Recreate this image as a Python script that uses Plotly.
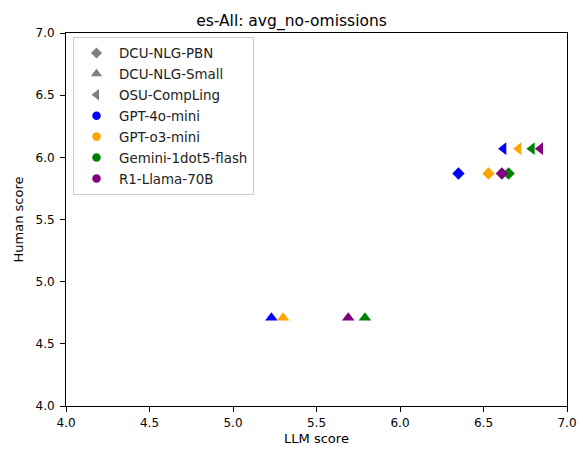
import plotly.graph_objects as go

# Systems (marker shapes) and LLM judges (colours)
systems = ["DCU-NLG-PBN", "DCU-NLG-Small", "OSU-CompLing"]
system_symbols = ["diamond", "triangle-up", "triangle-left"]
system_sizes = [9.5, 11, 11]

judges = ["GPT-4o-mini", "GPT-o3-mini", "Gemini-1dot5-flash", "R1-Llama-70B"]
judge_colors = ["blue", "orange", "green", "purple"]

# Human score per system
human_scores = [5.87, 4.71, 6.07]

# LLM score per system (rows) and judge (columns)
llm_scores = [
    [6.35, 6.53, 6.65, 6.61],   # DCU-NLG-PBN
    [5.23, 5.30, 5.79, 5.69],   # DCU-NLG-Small
    [6.62, 6.71, 6.79, 6.84],   # OSU-CompLing
]

tick_vals = [4.0, 4.5, 5.0, 5.5, 6.0, 6.5, 7.0]
tick_text = ["4.0", "4.5", "5.0", "5.5", "6.0", "6.5", "7.0"]

fig = go.Figure()

for si, sys in enumerate(systems):
    for ji, judge in enumerate(judges):
        fig.add_trace(go.Scatter(
            x=[llm_scores[si][ji]], y=[human_scores[si]],
            mode="markers",
            marker=dict(symbol=system_symbols[si], size=system_sizes[si],
                        color=judge_colors[ji], line=dict(width=0)),
            showlegend=False,
            name=f"{sys} / {judge}",
        ))

# Legend entries: shapes in grey, judges as coloured circles
legend_items = []
for si, sys in enumerate(systems):
    legend_items.append((sys, system_symbols[si], system_sizes[si] - 1, "grey"))
for ji, judge in enumerate(judges):
    legend_items.append((judge, "circle", 8.5, judge_colors[ji]))

for label, symbol, size, color in legend_items:
    fig.add_trace(go.Scatter(
        x=[None], y=[None], mode="markers", name=label, legendgroup=label,
        marker=dict(symbol=symbol, size=size, color=color, line=dict(width=0)),
    ))

axis_common = dict(
    showline=True, linecolor="black", linewidth=1, mirror=True,
    ticks="outside", ticklen=5, tickcolor="black",
    showgrid=False, zeroline=False, automargin=False,
    tickfont=dict(family="DejaVu Sans", size=12, color="black"),
    range=[4, 7], tickvals=tick_vals, ticktext=tick_text,
)

fig.update_layout(
    width=583, height=452,
    margin=dict(l=66, r=16, t=33, b=46),
    paper_bgcolor="white", plot_bgcolor="white",
    title=dict(text="es-All: avg_no-omissions", x=0.5, xanchor="center",
               y=0.955, yanchor="middle",
               font=dict(family="DejaVu Sans", size=15.5, color="black")),
    xaxis=dict(ticklabelstandoff=1,
               title=dict(text="LLM score", standoff=4,
                          font=dict(family="DejaVu Sans", size=13, color="black")),
               **axis_common),
    yaxis=dict(ticklabelstandoff=3,
               title=dict(text="Human score", standoff=8,
                          font=dict(family="DejaVu Sans", size=13, color="black")),
               **axis_common),
    legend=dict(x=0.014, y=0.99, xanchor="left", yanchor="top",
                bgcolor="rgba(255,255,255,0.8)", bordercolor="#cccccc",
                borderwidth=1,
                font=dict(family="DejaVu Sans", size=13.4, color="#222222"),
                itemwidth=35, tracegroupgap=0.5),
)

fig.write_html("out.html")
